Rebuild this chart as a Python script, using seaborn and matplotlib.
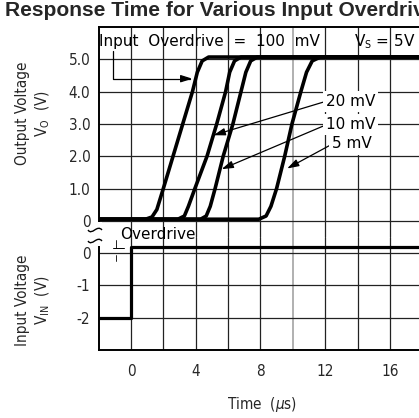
"""
Comparator response time for various input overdrives
"""
import numpy as np
import matplotlib.pyplot as plt
import seaborn as sns
import pandas as pd
from matplotlib.path import Path
from matplotlib.patches import PathPatch, Rectangle

# Output voltage curves (time in us, V_O in volts)
t_100mv = [-2.0, 0.9, 1.3, 1.6, 2.0, 2.6, 3.2, 3.8, 4.1, 4.4, 4.8, 20.0]
v_100mv = [0.05, 0.05, 0.12, 0.35, 1.0, 2.0, 3.0, 4.0, 4.6, 4.95, 5.07, 5.07]
t_20mv = [-2.0, 2.9, 3.3, 3.55, 3.95, 4.7, 5.3, 5.85, 6.1, 6.4, 6.8, 20.0]
v_20mv = [0.05, 0.05, 0.15, 0.45, 1.0, 2.0, 3.0, 4.0, 4.6, 4.95, 5.07, 5.07]
t_10mv = [-2.0, 4.3, 4.65, 4.9, 5.2, 5.7, 6.3, 6.8, 7.1, 7.4, 7.8, 20.0]
v_10mv = [0.05, 0.05, 0.15, 0.45, 1.0, 2.0, 3.0, 4.0, 4.6, 4.95, 5.07, 5.07]
t_5mv = [-2.0, 7.9, 8.35, 8.65, 9.0, 9.5, 9.95, 10.5, 10.85, 11.2, 11.7, 20.0]
v_5mv = [0.05, 0.05, 0.15, 0.45, 1.0, 2.0, 3.0, 4.0, 4.6, 4.95, 5.07, 5.07]

# Input step (time in us, V_IN in volts)
t_in = [-2.0, 0.0, 0.0, 20.0]
v_in = [-2.0, -2.0, 0.2, 0.2]

out_ticks = [0, 1, 2, 3, 4, 5]
out_labels = ["0", "1.0", "2.0", "3.0", "4.0", "5.0"]
in_ticks = [-2, -1, 0]
in_labels = ["-2", "-1", "0"]
x_ticks = np.arange(0, 21, 2)
x_labels = [str(t) if t % 4 == 0 and t < 20 else "" for t in x_ticks]

curves = pd.concat([
    pd.DataFrame({"t": t_100mv, "v": v_100mv, "od": "100 mV"}),
    pd.DataFrame({"t": t_20mv, "v": v_20mv, "od": "20 mV"}),
    pd.DataFrame({"t": t_10mv, "v": v_10mv, "od": "10 mV"}),
    pd.DataFrame({"t": t_5mv, "v": v_5mv, "od": "5 mV"}),
])
step = pd.DataFrame({"t": t_in, "v": v_in})

sns.set_style("white")
plt.rcParams["font.family"] = ["DejaVu Sans"]
plt.rcParams["font.stretch"] = "condensed"

W, H = 419, 418
fig = plt.figure(figsize=(W / 100, H / 100), dpi=100)
ax1 = fig.add_axes([98.6 / W, 1 - 237 / H, 356 / W, 210 / H])
ax2 = fig.add_axes([98.6 / W, 1 - 350 / H, 356 / W, 113 / H], sharex=ax1)

grid_kw = dict(color="#222222", lw=0.9, zorder=1)
for ax in (ax1, ax2):
    for t in x_ticks:
        ax.axvline(t, **(grid_kw if t != 10 else dict(color="#aaaaaa", lw=1.3, zorder=1)))
for y in out_ticks:
    ax1.axhline(y, **grid_kw)
for y in in_ticks:
    ax2.axhline(y, **grid_kw)

sns.lineplot(data=curves, x="t", y="v", hue="od", units="od", estimator=None,
             sort=False, palette=["black"] * 4, legend=False, lw=2.6, ax=ax1,
             zorder=3, solid_joinstyle="round")
sns.lineplot(data=step, x="t", y="v", estimator=None, sort=False, color="black",
             lw=2.3, ax=ax2, zorder=3)

ax1.set_xlim(-2, 20)
ax1.set_ylim(-0.5, 6)
ax2.set_ylim(-3, 0.5)
ax1.set_yticks(out_ticks, out_labels)
ax2.set_yticks(in_ticks, in_labels)
ax2.set_xticks(x_ticks, x_labels)
ax1.tick_params(axis="x", labelbottom=False, length=0)
ax1.tick_params(axis="y", length=0, pad=6, labelsize=11)
ax2.tick_params(axis="y", length=0, pad=6, labelsize=11)
ax2.tick_params(axis="x", length=0, pad=10, labelsize=11)
for ax in (ax1, ax2):
    ax.set_xlabel("")
    ax.set_ylabel("")
    for s in ax.spines.values():
        s.set_color("black")
        s.set_linewidth(1.4)
ax1.spines["bottom"].set_visible(False)
ax2.spines["top"].set_visible(False)

# annotations
txt_kw = dict(fontsize=11, color="black", fontstretch="normal")
ax1.text(-1.95, 5.55, "Input  Overdrive  =  100  mV", ha="left", va="center", zorder=4, **txt_kw)
ax1.text(13.8, 5.55, "V$_\\mathrm{S}$ = 5V", ha="left", va="center", zorder=4, **txt_kw)
arrow_kw = dict(arrowstyle="-|>,head_length=0.7,head_width=0.22", color="black",
                lw=0.9, shrinkA=0, shrinkB=0, mutation_scale=10)
ax1.annotate("", xy=(3.8, 4.4), xytext=(-1.1, 5.25),
             arrowprops=dict(connectionstyle="angle,angleA=90,angleB=0,rad=0", **arrow_kw))
bbox = dict(boxstyle="square,pad=0.2", fc="white", ec="none")
for label, xt, yt, xa, ya in [("20 mV", 12.05, 3.7, 5.1, 2.65),
                              ("10 mV", 12.05, 2.97, 5.6, 1.6),
                              ("5 mV", 12.45, 2.38, 9.65, 1.62)]:
    ax1.annotate(label, xy=(xa, ya), xytext=(xt, yt), ha="left", va="center",
                 bbox=bbox, zorder=4, arrowprops=dict(relpos=(0, 0.5), **arrow_kw), **txt_kw)

ax2.text(-0.7, 0.58, "Overdrive", ha="left", va="center", zorder=4, **txt_kw)
ax2.plot([-1.1, -0.4], [0.15, 0.15], color="black", lw=0.7, zorder=4)
ax2.plot([-0.9, -0.9], [0.4, 0.17], color="black", lw=0.6, zorder=4)
ax2.plot([-0.9, -0.9], [-0.05, -0.25], color="black", lw=0.6, zorder=4)

# axis break marks on the left spine
fig.patches.append(Rectangle((96 / W, 1 - 246 / H), 6 / W, 24 / H, transform=fig.transFigure,
                             fc="white", ec="none", zorder=5))
for yb in (230, 241):
    verts = [(88 / W, 1 - yb / H), (92 / W, 1 - (yb + 6) / H),
             (97 / W, 1 - (yb - 6) / H), (102 / W, 1 - yb / H)]
    fig.patches.append(PathPatch(Path(verts, [Path.MOVETO, Path.CURVE4, Path.CURVE4, Path.CURVE4]),
                                 transform=fig.transFigure, fc="none", ec="black", lw=1.0, zorder=6))

fig.text(23 / W, 1 - 113 / H, "Output Voltage", rotation=90, ha="center", va="center", fontsize=11)
fig.text(43 / W, 1 - 113 / H, "V$_\\mathrm{O}$  (V)", rotation=90, ha="center", va="center", fontsize=11)
fig.text(23 / W, 1 - 300 / H, "Input Voltage", rotation=90, ha="center", va="center", fontsize=11)
fig.text(43 / W, 1 - 300 / H, "V$_\\mathrm{IN}$  (V)", rotation=90, ha="center", va="center", fontsize=11)
fig.text(262 / W, 1 - 405 / H, "Time  ($\\mu$s)", ha="center", va="center", fontsize=11)

fig.text(5 / W, 1 - 11 / H, "Response Time for Various Input Overdrives", ha="left", va="center",
         fontsize=15.1, fontweight="bold", fontstretch="normal",
         family=["Liberation Sans", "DejaVu Sans"])

fig.savefig("out.png", dpi=100)
